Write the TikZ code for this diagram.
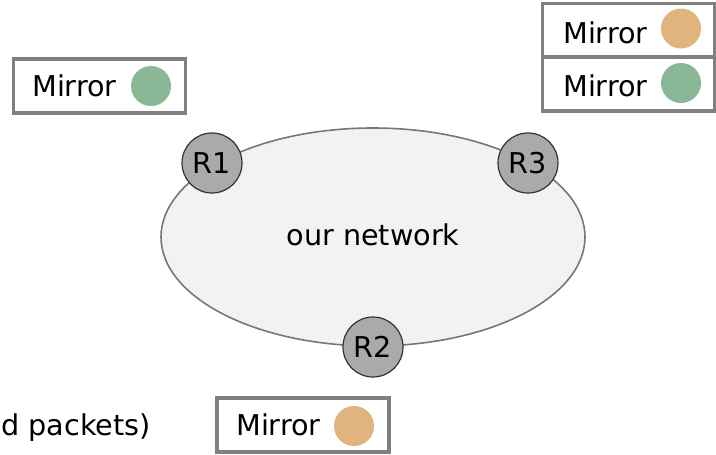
\documentclass[tikz,border=0pt]{standalone}
\usepackage{fontspec}
\setmainfont{DejaVu Sans}
\usetikzlibrary{shapes.geometric}
\definecolor{boxgray}{HTML}{808080}
\definecolor{netfill}{HTML}{F2F2F2}
\definecolor{netline}{HTML}{777777}
\definecolor{routerfill}{HTML}{AAAAAA}
\definecolor{routerline}{HTML}{333333}
\definecolor{mirrororange}{HTML}{E0B47C}
\definecolor{mirrorgreen}{HTML}{8AB896}
\tikzset{
  mirrorbox/.style={draw=boxgray, line width=2.5pt, fill=white, rectangle, inner sep=0pt, minimum width=129pt, minimum height=40.5pt},
  dot/.style={circle, inner sep=0pt, minimum size=30pt, draw=none},
  router/.style={circle, draw=routerline, line width=0.9pt, fill=routerfill, inner sep=0pt, minimum size=45pt},
  net/.style={ellipse, draw=netline, line width=1.2pt, fill=netfill, inner sep=0pt, minimum width=318pt, minimum height=163.5pt},
  lbl/.style={inner sep=0pt, font=\fontsize{21.5pt}{26pt}\selectfont}
}
\begin{document}
\begin{tikzpicture}[x=0.75pt, y=-0.75pt]
\useasboundingbox (0,0) rectangle (716,454);
% network
\node[net] (network) at (373,237) {};
\node[lbl, anchor=base] (nettext) at (373,245) {our network};
\node[router] (R1) at (212,163) {};
\node[lbl] (R1t) at (R1) {R1};
\node[router] (R3) at (528,163) {};
\node[lbl] (R3t) at (R3) {R3};
\node[router] (R2) at (373,347) {};
\node[lbl] (R2t) at (R2) {R2};
% left mirror
\node[mirrorbox] (mL) at (99.5,86) {};
\node[lbl, anchor=base west] (mLt) at (32,96.5) {Mirror};
\node[dot, fill=mirrorgreen] (mLd) at (151,86) {};
% top right mirrors
\node[mirrorbox] (mT1) at (628.5,30.5) {};
\node[mirrorbox] (mT2) at (628.5,84) {};
\node[lbl, anchor=base west] (mT1t) at (563,43) {Mirror};
\node[lbl, anchor=base west] (mT2t) at (563,96.5) {Mirror};
\node[dot, fill=mirrororange] (mT1d) at (681,28.5) {};
\node[dot, fill=mirrorgreen] (mT2d) at (681,83) {};
% bottom mirror
\node[mirrorbox] (mB) at (303,425) {};
\node[lbl, anchor=base west] (mBt) at (236,435) {Mirror};
\node[dot, fill=mirrororange] (mBd) at (354,426) {};
% text at left edge
\node[lbl, anchor=base west] (pk) at (1,435) {d packets)};
\end{tikzpicture}
\end{document}
